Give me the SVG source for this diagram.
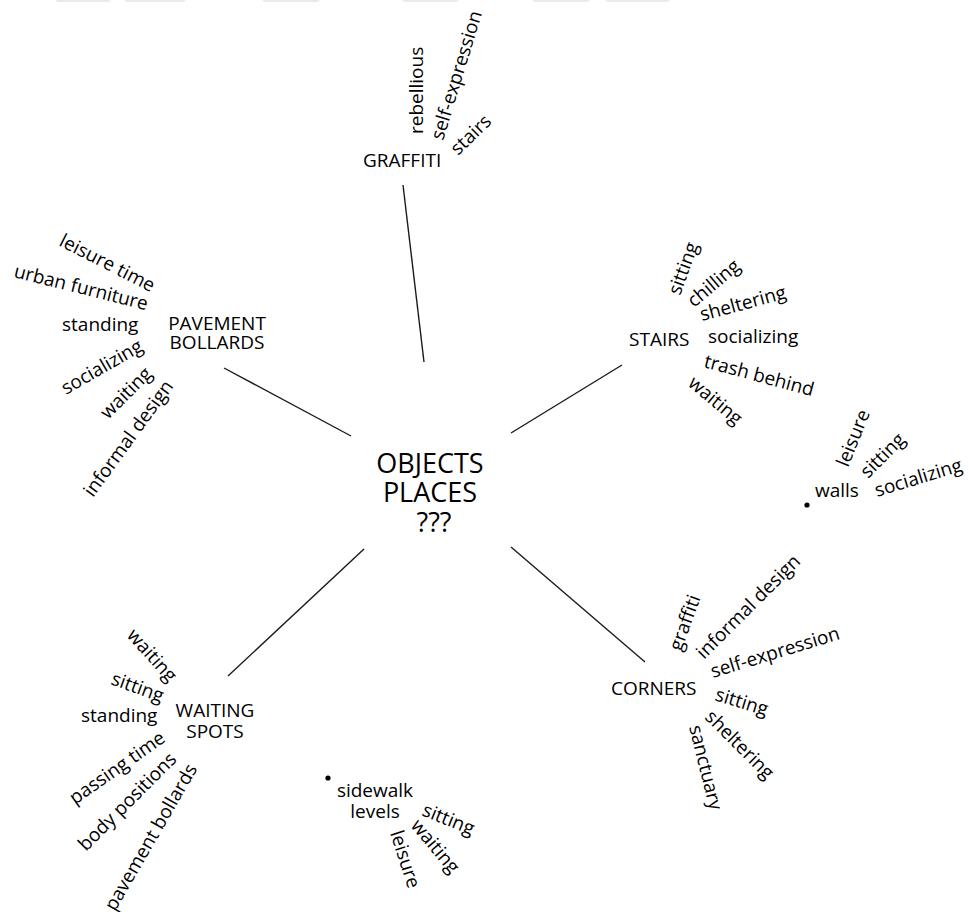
<svg xmlns="http://www.w3.org/2000/svg" width="969" height="912" viewBox="0 0 969 912">
  <style>
    text { font-family: "Open Sans", "Noto Sans", "Liberation Sans", sans-serif; fill: #000; }
    .hub { font-size: 27px; text-anchor: middle; }
    .node { font-size: 19px; }
    .mid { text-anchor: middle; }
    .word { font-size: 19px; }
    .link { stroke: #1a1a1a; stroke-width: 1.4; fill: none; }
    .tab { fill: #e9e9e9; }
    .dot { fill: #000; }
  </style>

  <!-- faint tabs along the top edge -->
  <g id="top-tabs">
    <rect class="tab" x="55" y="-8" width="56" height="10" rx="4"/>
    <rect class="tab" x="124" y="-8" width="62" height="10" rx="4"/>
    <rect class="tab" x="262" y="-8" width="58" height="10" rx="4"/>
    <rect class="tab" x="402" y="-8" width="57" height="10" rx="4"/>
    <rect class="tab" x="532" y="-8" width="58" height="10" rx="4"/>
    <rect class="tab" x="605" y="-8" width="65" height="10" rx="4"/>
  </g>

  <!-- spokes from the hub to each cluster -->
  <g id="connectors">
    <line class="link" x1="424" y1="362" x2="403" y2="185"/>
    <line class="link" x1="351" y1="436" x2="224" y2="368"/>
    <line class="link" x1="511" y1="433" x2="622" y2="365"/>
    <line class="link" x1="364" y1="549" x2="228" y2="676"/>
    <line class="link" x1="511" y1="547" x2="645" y2="662"/>
  </g>

  <g id="hub">
    <text class="hub" x="430" y="473">OBJECTS</text>
    <text class="hub" x="430" y="502">PLACES</text>
    <text class="hub" x="434" y="532">???</text>
  </g>

  <g id="graffiti">
    <text class="node" x="363" y="167">GRAFFITI</text>
    <text class="word" transform="translate(423,134) rotate(-90)">rebellious</text>
    <text class="word" transform="translate(443,141) rotate(-73)">self-expression</text>
    <text class="word" transform="translate(458,156) rotate(-44)">stairs</text>
  </g>

  <g id="pavement-bollards">
    <text class="node mid" x="217" y="330">PAVEMENT</text>
    <text class="node mid" x="217" y="349">BOLLARDS</text>
    <text class="word" transform="translate(58,245) rotate(27)">leisure time</text>
    <text class="word" transform="translate(13,277) rotate(14)">urban furniture</text>
    <text class="word" x="62" y="331">standing</text>
    <text class="word" transform="translate(66,395) rotate(-30)">socializing</text>
    <text class="word" transform="translate(108,420) rotate(-45)">waiting</text>
    <text class="word" transform="translate(93,498) rotate(-54)">informal design</text>
  </g>

  <g id="stairs">
    <text class="node" x="629" y="346">STAIRS</text>
    <text class="word" transform="translate(680,296) rotate(-70)">sitting</text>
    <text class="word" transform="translate(694,308) rotate(-40)">chilling</text>
    <text class="word" transform="translate(702,321) rotate(-15)">sheltering</text>
    <text class="word" x="708" y="343">socializing</text>
    <text class="word" transform="translate(703,367) rotate(15)">trash behind</text>
    <text class="word" transform="translate(687,385) rotate(40)">waiting</text>
  </g>

  <g id="walls">
    <circle class="dot" cx="807" cy="505" r="2.6"/>
    <text class="word" x="815" y="497">walls</text>
    <text class="word" transform="translate(848,468) rotate(-68)">leisure</text>
    <text class="word" transform="translate(868,479) rotate(-45)">sitting</text>
    <text class="word" transform="translate(877,497) rotate(-17)">socializing</text>
  </g>

  <g id="corners">
    <text class="node" x="611" y="695">CORNERS</text>
    <text class="word" transform="translate(681,652) rotate(-70)">graffiti</text>
    <text class="word" transform="translate(704,660) rotate(-45)">informal design</text>
    <text class="word" transform="translate(713,678) rotate(-17)">self-expression</text>
    <text class="word" transform="translate(714,700) rotate(17)">sitting</text>
    <text class="word" transform="translate(704,718) rotate(45)">sheltering</text>
    <text class="word" transform="translate(689,727) rotate(76)">sanctuary</text>
  </g>

  <g id="waiting-spots">
    <text class="node mid" x="215" y="717">WAITING</text>
    <text class="node mid" x="215" y="738">SPOTS</text>
    <text class="word" transform="translate(126,636) rotate(48)">waiting</text>
    <text class="word" transform="translate(110,684) rotate(20)">sitting</text>
    <text class="word" x="81" y="722">standing</text>
    <text class="word" transform="translate(75,805) rotate(-35)">passing time</text>
    <text class="word" transform="translate(86,852) rotate(-45)">body positions</text>
    <text class="word" transform="translate(115,912) rotate(-60)">pavement bollards</text>
  </g>

  <g id="sidewalk-levels">
    <circle class="dot" cx="328" cy="778" r="2.6"/>
    <text class="word mid" x="375" y="797">sidewalk</text>
    <text class="word mid" x="375" y="818">levels</text>
    <text class="word" transform="translate(421,815) rotate(22)">sitting</text>
    <text class="word" transform="translate(410,826) rotate(50)">waiting</text>
    <text class="word" transform="translate(390,833) rotate(72)">leisure</text>
  </g>
</svg>
